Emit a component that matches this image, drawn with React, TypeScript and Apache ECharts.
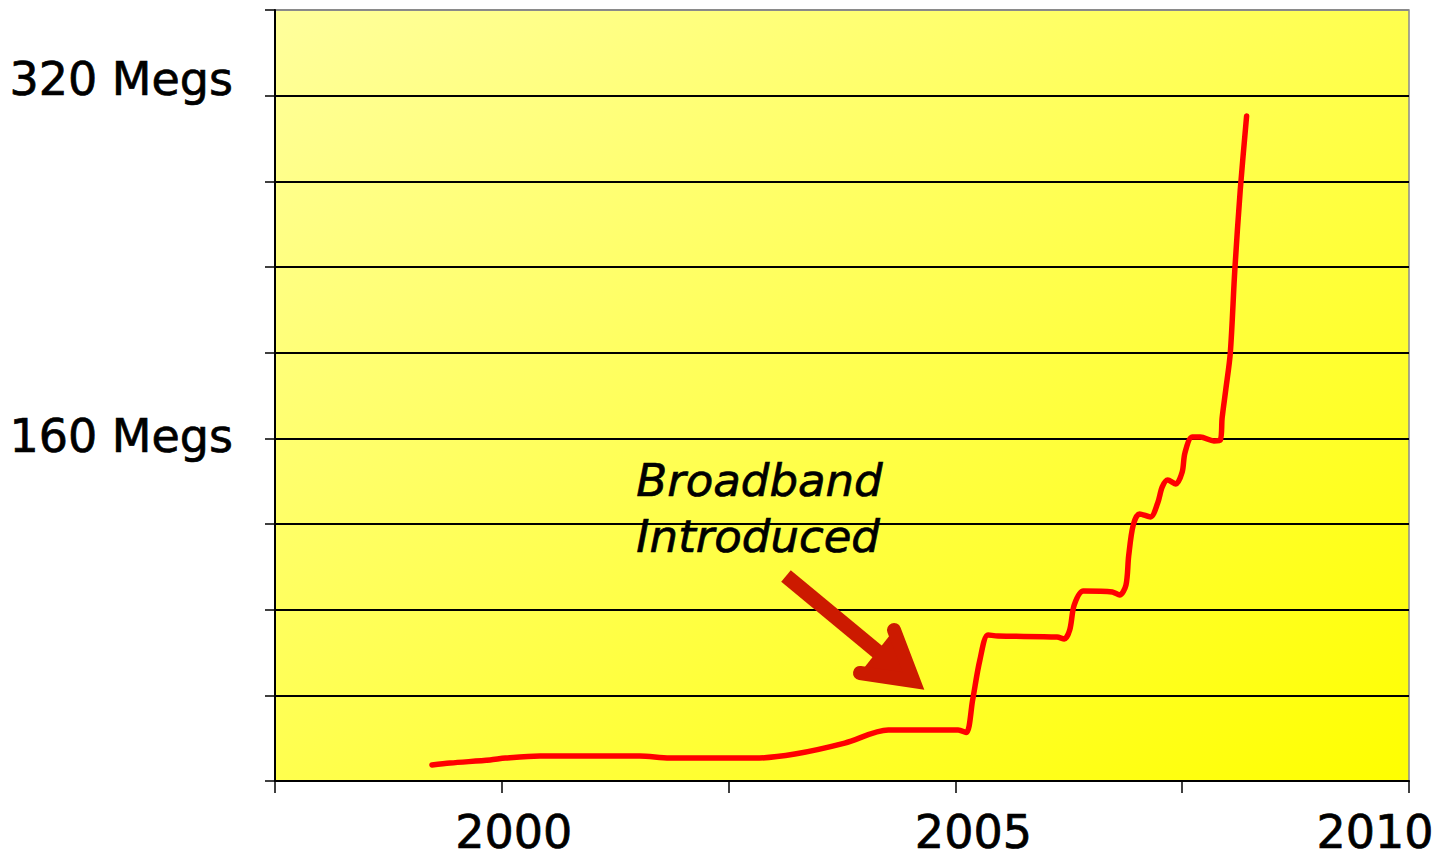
import React, { useEffect, useRef } from "react";
import * as echarts from "echarts";

const years = [
  1999.23, 1999.43, 1999.87, 2000.04, 2000.42, 2001.52, 2001.85, 2002.79, 2003.23, 2003.78,
  2004.26, 2005.03, 2005.12, 2005.19, 2005.27, 2005.36, 2005.47, 2006.12, 2006.2, 2006.26,
  2006.31, 2006.41, 2006.73, 2006.81, 2006.88, 2006.91, 2006.96, 2007.03, 2007.15, 2007.23,
  2007.28, 2007.34, 2007.43, 2007.5, 2007.53, 2007.61, 2007.7, 2007.85, 2007.92, 2007.94,
  2007.98, 2008.03, 2008.08, 2008.14, 2008.21,
];
const megs = [
  7.5, 8.4, 9.8, 10.7, 11.7, 11.7, 10.7, 10.7, 12.6, 17.7,
  23.8, 23.8, 22.6, 37.8, 56.5, 68.2, 67.7, 67.2, 66.3, 70.5,
  82.2, 88.7, 88.3, 86.8, 91.5, 105.1, 119.5, 124.7, 123.3, 129.8,
  137.3, 140.5, 138.7, 144.3, 153.2, 160.6, 160.6, 158.8, 159.2, 169.5,
  182.6, 199.8, 238.6, 276.0, 310.5,
];
const xTickLabels = [2000, 2005, 2010];
const yTickLabels = [160, 320];
const annotationLines = ["Broadband", "Introduced"];

export default function App() {
  const ref = useRef<HTMLDivElement>(null);
  useEffect(() => {
    if (!ref.current) return;
    const chart = echarts.init(ref.current, undefined, { renderer: "svg" });
    const font = "'DejaVu Sans', Verdana, sans-serif";
    const arrowColor = "#CC1A00";
    const txt = { fontFamily: font, color: "#000", textBorderColor: "#000", textBorderWidth: 0.7 };
    chart.setOption({
      animation: false,
      grid: {
        left: 275,
        right: 32,
        top: 10,
        bottom: 78,
        show: true,
        borderColor: "#8a8a8a",
        borderWidth: 1.5,
        backgroundColor: new echarts.graphic.LinearGradient(0, 0, 1, 1, [
          { offset: 0, color: "#FFFF9C" },
          { offset: 1, color: "#FFFF00" },
        ]),
      },
      xAxis: {
        type: "value",
        min: 1997.5,
        max: 2010,
        interval: 2.5,
        axisLine: { show: true, lineStyle: { color: "#000", width: 2 } },
        axisTick: { show: true, length: 12, lineStyle: { color: "#000", width: 1.5 } },
        splitLine: { show: false },
        axisLabel: {
          margin: 28,
          showMinLabel: true,
          showMaxLabel: true,
          fontFamily: font,
          fontSize: 46,
          color: "#000",
          formatter: (v: number) => {
            const r = Math.round(v * 10) / 10;
            if (!xTickLabels.includes(r)) return "";
            const key = r === 2000 ? "a" : r === 2005 ? "b" : "c";
            return `{${key}|${r}}`;
          },
          rich: {
            a: { ...txt, fontSize: 46, padding: [0, 0, 0, 24] },
            b: { ...txt, fontSize: 46, padding: [0, 0, 0, 36] },
            c: { ...txt, fontSize: 46, padding: [0, 68, 0, 0] },
          },
        },
      },
      yAxis: {
        type: "value",
        min: 0,
        max: 360,
        interval: 40,
        axisLine: { show: true, lineStyle: { color: "#000", width: 2 } },
        axisTick: { show: true, length: 10, lineStyle: { color: "#000", width: 1.5 } },
        splitLine: {
          show: true,
          lineStyle: {
            color: ["#000", "#000", "#000", "#000", "#000", "#000", "#000", "#000", "#000", "#8a8a8a"],
            width: 2,
          },
        },
        axisLabel: {
          margin: 42,
          fontFamily: font,
          fontSize: 45,
          color: "#000",
          formatter: (v: number) => {
            if (!yTickLabels.includes(v)) return "";
            return v === 320 ? `{up|${v} Megs}` : `{n|${v} Megs}`;
          },
          rich: {
            up: { ...txt, fontSize: 46, padding: [0, 0, 34, 0] },
            n: { ...txt, fontSize: 46, padding: [0, 0, 4, 0] },
          },
        },
      },
      series: [
        {
          type: "line",
          data: years.map((y, i) => [y, megs[i]]),
          showSymbol: false,
          symbol: "none",
          smooth: 0.3,
          lineStyle: { color: "#FF0000", width: 5.5, cap: "round", join: "round" },
          z: 5,
        },
      ],
      graphic: [
        {
          type: "text",
          left: 636,
          top: 452,
          style: {
            text: annotationLines.join("\n"),
            fontFamily: font,
            fontStyle: "italic",
            fontSize: 45,
            lineHeight: 56,
            fill: "#000",
            stroke: "#000",
            lineWidth: 0.7,
          },
          z: 10,
        },
        {
          type: "line",
          shape: { x1: 786, y1: 576, x2: 908, y2: 677 },
          style: { stroke: arrowColor, lineWidth: 15, lineCap: "butt" },
          z: 10,
        },
        {
          type: "polyline",
          shape: { points: [[894, 630], [913.5, 681], [860, 673]] },
          style: {
            fill: arrowColor,
            stroke: arrowColor,
            lineWidth: 14,
            lineJoin: "miter",
            lineCap: "round",
            miterLimit: 10,
          },
          z: 10,
        },
      ],
    });
    return () => chart.dispose();
  }, []);
  return (
    <div
      ref={ref}
      style={{ position: "fixed", left: 0, top: 0, width: 1441, height: 859, background: "#fff" }}
    />
  );
}
